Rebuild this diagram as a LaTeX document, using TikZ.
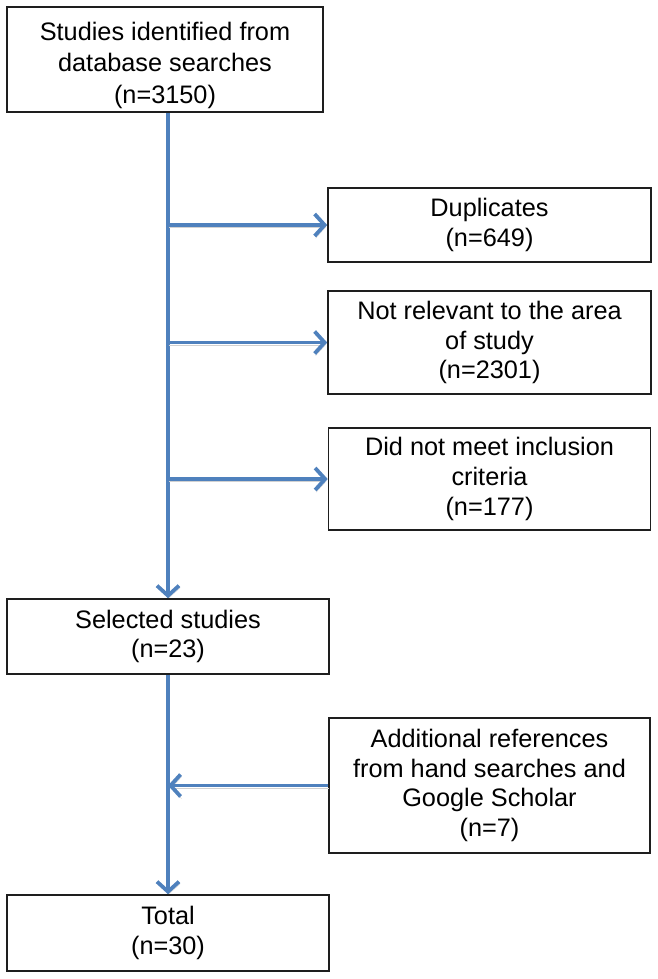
\documentclass[tikz,border=0pt]{standalone}
\usepackage{fontspec}
\setmainfont{Liberation Sans}
\usetikzlibrary{arrows.meta}
\definecolor{flowblue}{RGB}{79,129,189}
\definecolor{boxline}{RGB}{30,30,30}
\begin{document}
\begin{tikzpicture}[x=1pt,y=-1pt,
  box/.style={draw=boxline, line width=1.6pt, fill=white, align=center,
    inner sep=0pt, font=\fontsize{25.3}{29.8}\selectfont},
  label text/.style={align=center, inner sep=0pt,
    font=\fontsize{25.3}{31.5}\selectfont},
  flow/.style={draw=flowblue, line width=3.8pt,
    -{Straight Barb[length=10pt,width=22pt,line width=3.8pt]},
    preaction={draw=black!18, transform canvas={xshift=1pt,yshift=-2.2pt}}}]
\useasboundingbox (0,0) rectangle (658,979);
\node[box, minimum width=316pt, minimum height=105pt] (start) at (165,59.5) {};
\node[label text] (starttext) at (165,65) {Studies identified from\\database searches\\(n=3150)};
\node[box, minimum width=323pt, minimum height=74pt] (dup) at (489.5,225)
  {Duplicates\\(n=649)};
\node[box, minimum width=323pt, minimum height=103pt] (notrel) at (489.5,342.5)
  {Not relevant to the area\\of study\\(n=2301)};
\node[box, minimum width=322pt, minimum height=102pt] (notmeet) at (489.5,479)
  {Did not meet inclusion\\criteria\\(n=177)};
\node[box, minimum width=322pt, minimum height=75pt] (sel) at (168,636.5)
  {Selected studies\\(n=23)};
\node[box, minimum width=321pt, minimum height=135pt] (add) at (489.5,785.5)
  {Additional references\\from hand searches and\\Google Scholar\\(n=7)};
\node[box, minimum width=322pt, minimum height=76pt] (total) at (168,933)
  {Total\\(n=30)};
\coordinate (top) at (sel.north |- start.south);
\coordinate (b1) at (sel.north |- dup.west);
\coordinate (b2) at (sel.north |- notrel.west);
\coordinate (b3) at (sel.north |- notmeet.west);
\coordinate (b4) at (sel.south |- add.west);
\draw[flow] (top) -- (sel.north);
\draw[flow] (b1) -- (dup.west);
\draw[flow] (b2) -- (notrel.west);
\draw[flow] (b3) -- (notmeet.west);
\draw[flow] (sel.south) -- (total.north);
\draw[flow] (add.west) -- (b4);
\end{tikzpicture}
\end{document}
